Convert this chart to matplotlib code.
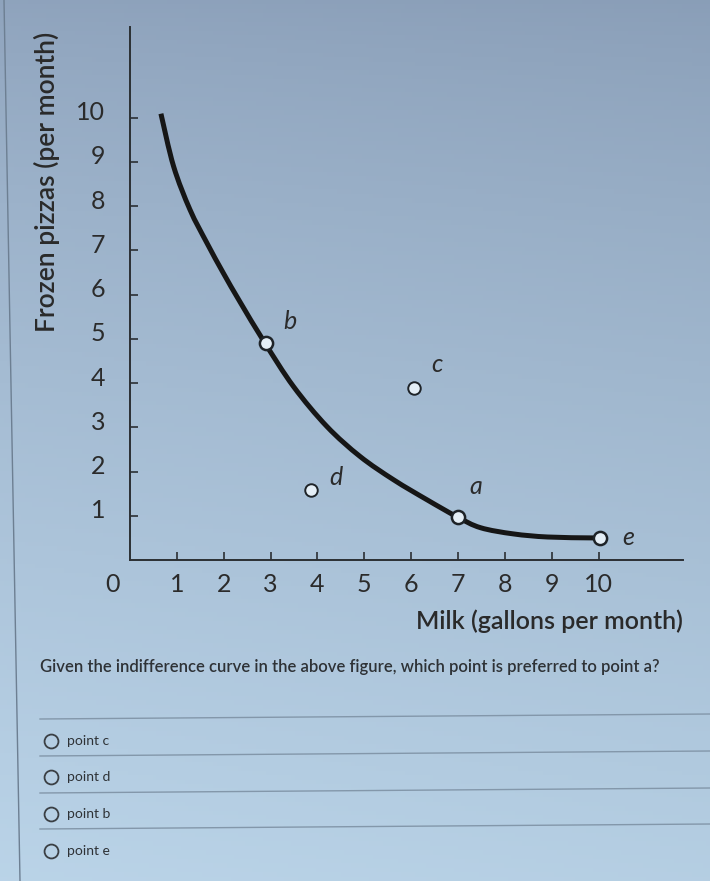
import matplotlib
matplotlib.use("Agg")
import matplotlib.pyplot as plt
import matplotlib.transforms as mtransforms
from matplotlib.path import Path
from matplotlib.patches import PathPatch
import numpy as np

plt.rcParams["font.family"] = ["Lato", "DejaVu Sans"]

# curve
curva_x = [0.66, 0.93, 1.28, 1.64, 1.99, 2.35, 2.87, 3.49, 4.20, 4.91, 5.63, 6.34, 6.99, 7.48, 8.18, 8.91, 9.83, 10.02]
curva_y = [10.09, 8.90, 7.92, 7.17, 6.49, 5.83, 4.92, 3.92, 3.02, 2.34, 1.81, 1.36, 0.97, 0.73, 0.59, 0.52, 0.50, 0.50]

# points on / off the curve
pontos = ["b", "c", "d", "a", "e"]
pontos_x = [2.9, 6.07, 3.87, 6.99, 10.02]
pontos_y = [4.9, 3.89, 1.58, 0.97, 0.5]

ticks = list(range(0, 11))
opcoes = ["point c", "point d", "point b", "point e"]
pergunta = "Given the indifference curve in the above figure, which point is preferred to point a?"

W, H = 710, 881
fig = plt.figure(figsize=(W / 100, H / 100), dpi=100)

# fundo (foto da tela)
bg = fig.add_axes([0, 0, 1, 1], zorder=-5)
t = np.linspace(0, 1, 200)[:, None]
s = np.linspace(0, 1, 200)[None, :]
topo = np.array([0.54, 0.62, 0.72])
base = np.array([0.71, 0.81, 0.89])
grad = topo + (base - topo) * (t ** 0.8)[..., None] + 0.02 * (1 - s)[..., None]
bg.imshow(np.clip(grad, 0, 1), aspect="auto", extent=[0, 1, 0, 1], origin="upper")
bg.plot([4 / W, 20 / W], [1, 0], color="#6d7f92", lw=1.0)
bg.set_xlim(0, 1)
bg.set_ylim(0, 1)
bg.axis("off")


def fx(px):
    return px / W


def fy(py):
    return 1 - py / H


# grafico
ax = fig.add_axes([fx(130), fy(560), (683 - 130) / W, (560 - 27) / H])
ax.patch.set_alpha(0)
ax.set_xlim(0, 11.8)
ax.set_ylim(0, 12.05)
for lado in ["top", "right"]:
    ax.spines[lado].set_visible(False)
for lado in ["left", "bottom"]:
    ax.spines[lado].set_color("#2b2f33")
    ax.spines[lado].set_linewidth(1.4)

ax.set_xticks(ticks[1:])
ax.set_yticks(ticks[1:])
ax.tick_params(direction="in", length=6, width=1.2, color="#2b2f33",
               labelsize=18, labelcolor="#2b2b2b")
ax.tick_params(axis="x", pad=9)
ax.tick_params(axis="y", pad=18)
desloc_y = mtransforms.ScaledTranslation(0, 5 / 72, fig.dpi_scale_trans)
for lab in ax.get_yticklabels():
    lab.set_transform(lab.get_transform() + desloc_y)
ax.text(-0.38, -0.3, "0", ha="center", va="top", fontsize=18, color="#2b2b2b")

# curva suave (Catmull-Rom -> Bezier cubica) passando pelos pontos lidos
p = np.column_stack([curva_x, curva_y])
ext = np.vstack([p[0], p, p[-1]])
verts = [p[0]]
codes = [Path.MOVETO]
for i in range(1, len(ext) - 2):
    c1 = ext[i] + (ext[i + 1] - ext[i - 1]) / 6
    c2 = ext[i + 1] - (ext[i + 2] - ext[i]) / 6
    verts += [c1, c2, ext[i + 1]]
    codes += [Path.CURVE4] * 3
ax.add_patch(PathPatch(Path(verts, codes), fc="none", ec="#161616", lw=3.6,
                       capstyle="butt", zorder=3))

deslocamentos = {"b": (17, 16), "c": (16, 17), "d": (18, 9), "a": (13, 22), "e": (21, 0)}
for nome, x, y in zip(pontos, pontos_x, pontos_y):
    na_curva = nome in ("a", "b", "e")
    ax.plot(x, y, "o", ms=9.5 if na_curva else 9, mfc="#e4eef6",
            mec="#1e2328", mew=1.8 if na_curva else 1.4, zorder=4)
    ax.annotate(nome, (x, y), xytext=deslocamentos[nome], textcoords="offset points",
                ha="center", va="center", fontsize=18, style="italic", color="#2b2b2b")

fig.text(fx(47), fy(182), "Frozen pizzas (per month)", rotation=90, ha="center", va="center",
         fontsize=19, fontweight="semibold", color="#2a2a2a")
fig.text(fx(683), fy(621), "Milk (gallons per month)", ha="right", va="center",
         fontsize=18, fontweight="semibold", color="#2a2a2a")

# parte do questionario
fig.text(fx(40), fy(667), pergunta, ha="left", va="center", fontsize=12,
         fontweight="semibold", color="#2e3236")

linhas_y = [718, 755, 792, 828]
for ly in linhas_y:
    bg.plot([fx(40), 1], [fy(ly + 1), fy(ly - 4)], color="#8397aa", lw=1.0)

opcoes_y = [741, 777, 814, 851]
for texto, oy in zip(opcoes, opcoes_y):
    bg.plot(fx(51), fy(oy), "o", ms=10, mfc="none", mec="#3a3f44", mew=1.3)
    fig.text(fx(67), fy(oy), texto, ha="left", va="center", fontsize=10,
             color="#2e3236")

fig.savefig("out.png", dpi=100)
